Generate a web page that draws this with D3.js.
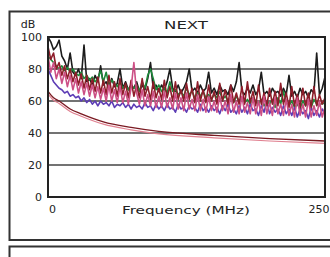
<!DOCTYPE html>
<html>
<head>
<meta charset="UTF-8">
<title>NEXT</title>
<script src="https://cdn.jsdelivr.net/npm/d3@7"></script>
<style>
  body { margin: 0; background: #fff; }
  svg { display: block; }
  text { font-family: "DejaVu Sans", "Liberation Sans", sans-serif; fill: #222; }
</style>
</head>
<body>
<div id="chart"></div>
<script>
// frequency points (MHz), every 2.5 MHz
var freq = [0, 2.5, 5, 7.5, 10, 12.5, 15, 17.5, 20, 22.5, 25, 27.5, 30, 32.5, 35, 37.5, 40, 42.5, 45, 47.5,
            50, 52.5, 55, 57.5, 60, 62.5, 65, 67.5, 70, 72.5, 75, 77.5, 80, 82.5, 85, 87.5, 90, 92.5, 95, 97.5,
            100, 102.5, 105, 107.5, 110, 112.5, 115, 117.5, 120, 122.5, 125, 127.5, 130, 132.5, 135, 137.5, 140, 142.5, 145, 147.5,
            150, 152.5, 155, 157.5, 160, 162.5, 165, 167.5, 170, 172.5, 175, 177.5, 180, 182.5, 185, 187.5, 190, 192.5, 195, 197.5,
            200, 202.5, 205, 207.5, 210, 212.5, 215, 217.5, 220, 222.5, 225, 227.5, 230, 232.5, 235, 237.5, 240, 242.5, 245, 247.5,
            250];

// measured NEXT traces (dB)
var pairBlack = [100, 97, 92, 94, 98, 88, 85, 80, 90, 78,
                 76, 80, 74, 95, 72, 74, 70, 76, 72, 82,
                 70, 72, 68, 74, 69, 71, 80, 68, 72, 67,
                 70, 68, 72, 66, 70, 67, 74, 84, 68, 70,
                 66, 70, 67, 72, 80, 68, 66, 70, 65, 68,
                 72, 80, 66, 68, 65, 70, 66, 68, 78, 65,
                 68, 64, 70, 66, 67, 64, 70, 66, 72, 84,
                 66, 64, 68, 65, 70, 64, 67, 78, 64, 66,
                 63, 68, 65, 66, 63, 68, 64, 76, 63, 66,
                 62, 68, 64, 66, 62, 67, 65, 90, 64, 68,
                 75];
var pairGreen = [88, 86, 84, 82, 80, 82, 79, 81, 78, 80,
                 77, 76, 78, 74, 76, 73, 75, 72, 74, 79,
                 72, 78, 70, 73, 71, 69, 72, 68, 70, 67,
                 69, 68, 70, 66, 72, 68, 76, 80, 74, 67,
                 70, 66, 68, 65, 72, 66, 67, 64, 66, 63,
                 68, 64, 66, 62, 65, 63, 66, 62, 64, 61,
                 64, 62, 66, 61, 63, 60, 62, 59, 63, 60,
                 62, 59, 61, 58, 62, 60, 58, 61, 57, 60,
                 58, 61, 56, 62, 58, 66, 59, 57, 60, 56,
                 58, 55, 60, 57, 59, 56, 61, 58, 57, 59,
                 58];
var pairRed = [94, 86, 90, 80, 84, 76, 82, 74, 80, 72,
               78, 70, 77, 68, 76, 67, 74, 66, 75, 65,
               73, 64, 76, 65, 72, 63, 74, 64, 71, 62,
               73, 63, 70, 62, 74, 63, 69, 61, 72, 62,
               68, 61, 73, 62, 69, 60, 72, 61, 67, 60,
               71, 61, 68, 59, 72, 60, 67, 59, 70, 60,
               66, 58, 71, 60, 67, 58, 70, 59, 65, 58,
               69, 58, 72, 59, 66, 57, 70, 58, 65, 57,
               68, 58, 66, 57, 71, 58, 65, 56, 69, 57,
               64, 56, 68, 57, 65, 56, 69, 57, 64, 58,
               62];
var pairPink = [88, 78, 84, 74, 80, 71, 78, 69, 76, 67,
                74, 65, 72, 64, 71, 63, 70, 62, 69, 61,
                68, 60, 70, 60, 67, 59, 69, 59, 66, 58,
                68, 84, 65, 58, 67, 57, 64, 57, 66, 56,
                63, 56, 66, 56, 62, 55, 65, 55, 62, 54,
                65, 55, 61, 54, 64, 54, 61, 53, 63, 54,
                60, 53, 63, 54, 60, 52, 64, 53, 60, 52,
                63, 53, 59, 52, 62, 52, 60, 51, 63, 52,
                59, 51, 62, 52, 58, 51, 61, 51, 58, 50,
                62, 51, 58, 50, 61, 50, 57, 51, 60, 50,
                56];
var pairPurple = [80, 76, 72, 70, 68, 67, 65, 66, 63, 64,
                  62, 63, 60, 62, 59, 61, 58, 60, 57, 60,
                  58, 59, 57, 60, 56, 58, 57, 59, 56, 58,
                  55, 58, 56, 57, 55, 59, 56, 57, 54, 58,
                  55, 57, 54, 58, 55, 56, 53, 58, 55, 56,
                  53, 57, 55, 56, 53, 58, 54, 56, 53, 57,
                  54, 56, 52, 57, 54, 58, 53, 55, 52, 57,
                  53, 56, 52, 58, 54, 55, 51, 57, 53, 60,
                  52, 56, 53, 55, 51, 57, 52, 55, 51, 56,
                  50, 55, 52, 54, 49, 56, 51, 54, 50, 55,
                  52];

// limit curves
var limitFreq = [0, 5, 10, 20, 30, 50, 75, 100, 150, 200, 250];
var limitA = [66, 62, 60, 55, 52, 47, 43.5, 41, 38.5, 36.5, 35];
var limitB = [64.5, 60.5, 58.5, 53.5, 50.5, 45.5, 42, 39.5, 37, 35, 33.5];

var yTicks = [0, 20, 40, 60, 80, 100];
var gridVals = [20, 40, 60, 80];
var xTicks = [0, 250];

var W = 330, H = 257;
var mLeft = 48, mTop = 37, pw = 277, ph = 160;

var svg = d3.select("#chart").append("svg")
    .attr("width", W).attr("height", H);

var defs = svg.append("defs");
defs.append("filter").attr("id", "soft")
  .append("feGaussianBlur").attr("stdDeviation", 0.45);

// outer panels
svg.append("rect").attr("x", 9.5).attr("y", 11.5).attr("width", 340).attr("height", 228.5)
    .attr("fill", "none").attr("stroke", "#333").attr("stroke-width", 2);
svg.append("rect").attr("x", 9.5).attr("y", 246.5).attr("width", 340).attr("height", 40)
    .attr("fill", "none").attr("stroke", "#333").attr("stroke-width", 2);

var x = d3.scaleLinear().domain([0, 250]).range([mLeft, mLeft + pw]);
var y = d3.scaleLinear().domain([0, 100]).range([mTop + ph, mTop]);

defs.append("clipPath").attr("id", "clip")
  .append("rect").attr("x", mLeft).attr("y", mTop).attr("width", pw).attr("height", ph);

// grid
svg.selectAll("line.grid").data(gridVals).enter().append("line")
    .attr("class", "grid")
    .attr("x1", mLeft).attr("x2", mLeft + pw)
    .attr("y1", function(d) { return y(d); }).attr("y2", function(d) { return y(d); })
    .attr("stroke", "#444").attr("stroke-width", 1.5);

var g = svg.append("g").attr("clip-path", "url(#clip)")
  .append("g").attr("filter", "url(#soft)");

var line = d3.line()
    .x(function(d, i) { return x(freq[i]); })
    .y(function(d) { return y(d); });

var traces = [
  {v: pairBlack, c: "#1a1a1a"},
  {v: pairGreen, c: "#1f8a3a"},
  {v: pairPurple, c: "#5d3cb5"},
  {v: pairRed, c: "#8e1f2a"},
  {v: pairPink, c: "#cc4f85"}
];

g.selectAll("path.trace").data(traces).enter().append("path")
    .attr("class", "trace")
    .attr("d", function(d) { return line(d.v); })
    .attr("fill", "none")
    .attr("stroke", function(d) { return d.c; })
    .attr("stroke-width", 1.6)
    .attr("stroke-linejoin", "round");

var limLine = d3.line()
    .x(function(d, i) { return x(limitFreq[i]); })
    .y(function(d) { return y(d); })
    .curve(d3.curveMonotoneX);

g.append("path").attr("d", limLine(limitB))
    .attr("fill", "none").attr("stroke", "#e08090").attr("stroke-width", 1.2);
g.append("path").attr("d", limLine(limitA))
    .attr("fill", "none").attr("stroke", "#7a1a22").attr("stroke-width", 1.4);

// plot frame
svg.append("rect").attr("x", mLeft).attr("y", mTop).attr("width", pw).attr("height", ph)
    .attr("fill", "none").attr("stroke", "#222").attr("stroke-width", 2);

// axes
var yAxis = svg.append("g").attr("transform", "translate(" + mLeft + ",0)")
    .call(d3.axisLeft(y).tickValues(yTicks).tickSize(0).tickPadding(6));
yAxis.select(".domain").remove();
yAxis.selectAll("text").attr("font-size", 11).attr("fill", "#222")
    .style("font-family", "DejaVu Sans, sans-serif");

var xAxis = svg.append("g").attr("transform", "translate(0," + (mTop + ph) + ")")
    .call(d3.axisBottom(x).tickValues(xTicks).tickSize(0).tickPadding(8));
xAxis.select(".domain").remove();
xAxis.selectAll("text").attr("font-size", 11).attr("fill", "#222")
    .style("font-family", "DejaVu Sans, sans-serif")
    .attr("text-anchor", function(d) { return d === 250 ? "end" : "middle"; })
    .attr("dx", 4);

svg.append("text").attr("x", 28).attr("y", 28).attr("text-anchor", "middle")
    .attr("font-size", 11).text("dB");
svg.append("text").attr("x", 186).attr("y", 29).attr("text-anchor", "middle")
    .attr("font-size", 10).attr("textLength", 44).attr("lengthAdjust", "spacingAndGlyphs")
    .text("NEXT");
svg.append("text").attr("x", 186).attr("y", 214).attr("text-anchor", "middle")
    .attr("font-size", 11).attr("textLength", 128).attr("lengthAdjust", "spacingAndGlyphs")
    .text("Frequency (MHz)");
</script>
</body>
</html>
